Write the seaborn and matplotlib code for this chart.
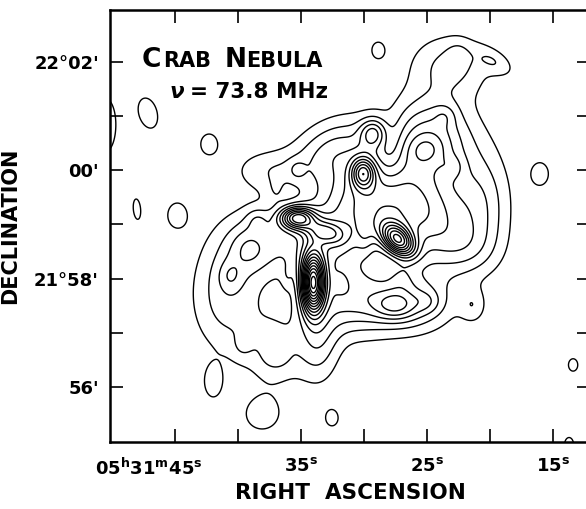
import numpy as np
import matplotlib
matplotlib.use("Agg")
import matplotlib.pyplot as plt
import matplotlib.transforms as mtransforms
import seaborn as sns

# ---- Data: brightness components (RA in s of 05h31m, Dec in arcmin above 21°) ----
comp_ra = np.array([
    40.79, 38.41, 37.06, 33.10, 31.11, 29.52, 25.16, 24.76, 26.35, 23.17, 20.56, 32.70, 19.60, 33.65, 22.38,
    37.62, 37.06,
    34.05, 35.32, 33.10, 27.30, 30.08, 29.29, 23.57, 22.94, 27.54, 38.49, 40.63,
    39.21, 39.68, 36.98, 35.32, 29.92, 26.98, 24.92, 25.16, 22.54, 36.11, 31.90, 27.90,
    47.14, 42.30, 44.84, 41.98, 38.10, 32.54, 21.35, 16.03, 13.41, 28.89, 13.73, 50.56, 48.02, 11.90])
comp_dec = np.array([
    57.70, 58.62, 56.78, 58.62, 57.61, 59.54, 59.17, 60.55, 57.61, 61.93, 59.45, 60.37, 61.99, 56.87, 58.53,
    60.00, 59.60,
    57.92, 59.12, 58.86, 58.71, 59.95, 60.68, 61.01, 60.06, 57.50, 59.10, 58.05,
    58.56, 56.74, 56.56, 60.00, 58.75, 58.03, 57.57, 60.37, 62.12, 58.03, 57.92, 60.37,
    61.05, 60.48, 59.17, 56.08, 55.49, 55.43, 57.50, 59.93, 56.41, 62.21, 54.94, 60.83, 59.28, 59.76])
comp_amp = np.array([
    2.6, 2.4, 2.0, 4.0, 3.5, 5.0, 4.5, 4.5, 3.5, 2.2, 2.0, 2.4, 1.4, 2.5, 2.0,
    1.6, 0.8,
    13.0, 8.0, 3.5, 9.0, 6.0, 3.5, 1.0, 1.0, 2.5, 1.2, 1.2,
    1.0, 0.8, 0.8, 1.0, 1.0, 1.0, 1.0, 1.2, 0.8, 0.8, 0.8, -1.2,
    1.5, 1.5, 1.5, 1.5, 1.6, 1.4, 1.5, 1.5, 1.35, 1.4, 1.5, 1.5, 1.3, 1.5])
comp_smaj = np.array([
    0.737, 0.460, 0.552, 0.552, 0.552, 0.645, 0.645, 0.552, 0.552, 0.516, 0.737, 0.552, 0.276, 0.552, 0.460,
    0.460, 0.184,
    0.368, 0.221, 0.258, 0.258, 0.200, 0.184, 0.147, 0.147, 0.276, 0.147, 0.184,
    0.258, 0.184, 0.166, 0.129, 0.221, 0.184, 0.166, 0.221, 0.184, 0.166, 0.147, 0.460,
    0.313, 0.203, 0.239, 0.258, 0.276, 0.166, 0.221, 0.221, 0.147, 0.166, 0.147, 0.552, 0.258, 0.147])
comp_smin = np.array([
    0.460, 0.460, 0.368, 0.552, 0.460, 0.645, 0.552, 0.516, 0.405, 0.405, 0.368, 0.368, 0.147, 0.276, 0.368,
    0.276, 0.129,
    0.147, 0.147, 0.147, 0.166, 0.150, 0.166, 0.147, 0.147, 0.184, 0.147, 0.147,
    0.221, 0.147, 0.147, 0.110, 0.110, 0.166, 0.147, 0.184, 0.147, 0.074, 0.110, 0.184,
    0.184, 0.166, 0.184, 0.147, 0.258, 0.129, 0.166, 0.166, 0.110, 0.129, 0.092, 0.221, 0.092, 0.110])
comp_pa = np.array([
    90, 0, 90, 0, 0, 0, 0, 90, 0, 0, 90, 30, -30, 90, 0,
    0, 90,
    90, 0, -15, -45, 90, 90, 0, 0, 0, 0, 90,
    90, 90, 0, 90, 90, 90, 0, 0, 90, 90, 90, 90,
    105, 90, 90, 90, 0, 90, 90, 90, 90, 90, 90, 90, 95, 90])

contour_levels = np.arange(1, 20)

ra_ticks = [45, 40, 35, 30, 25, 20, 15]
ra_labels = ["05$^{h}$31$^{m}$45$^{s}$", "", "35$^{s}$", "", "25$^{s}$", "", "15$^{s}$"]
dec_ticks = [56, 57, 58, 59, 60, 61, 62]
dec_labels = ["56'", "", "21°58'", "", "00'", "", "22°02'"]

# ---- Build the brightness map ----
ra_grid = np.linspace(11.5, 51.0, 700)
dec_grid = np.linspace(54.8, 63.2, 600)
RA, DEC = np.meshgrid(ra_grid, dec_grid)
scale = 15 * np.cos(np.deg2rad(22.0)) / 60.0   # arcmin per second of RA
field = np.zeros_like(RA)
for ra0, de0, a, sj, sn, pa in zip(comp_ra, comp_dec, comp_amp, comp_smaj, comp_smin, comp_pa):
    dx = -(RA - ra0) * scale
    dy = DEC - de0
    t = np.deg2rad(pa)
    u = dx * np.cos(t) + dy * np.sin(t)
    v = -dx * np.sin(t) + dy * np.cos(t)
    field += a * np.exp(-0.5 * ((u / sj) ** 2 + (v / sn) ** 2))

# ---- Plot ----
sns.set_theme(style="ticks")
plt.rcParams["font.family"] = ["DejaVu Sans"]
plt.rcParams["mathtext.default"] = "regular"
plt.rcParams["text.color"] = "black"
plt.rcParams["axes.labelcolor"] = "black"
plt.rcParams["xtick.color"] = "black"
plt.rcParams["ytick.color"] = "black"

W, H = 586, 509
fig = plt.figure(figsize=(W / 100, H / 100), dpi=100)
ax = fig.add_axes([110 / W, (H - 442) / H, (590 - 110) / W, (442 - 10) / H])

ax.contour(RA, DEC, field, levels=contour_levels, colors="black", linewidths=1.0)

ax.set_xlim(50.16, 12.07)
ax.set_ylim(54.99, 62.95)

ax.set_xticks(ra_ticks)
ax.set_xticklabels(ra_labels, fontsize=13, fontweight="bold", color="black")
ax.set_yticks(dec_ticks)
ax.set_yticklabels(dec_labels, fontsize=13, fontweight="bold", color="black")
ax.tick_params(axis="both", direction="in", length=9.5, width=1.2, color="black",
               top=True, right=True, labelcolor="black")
ax.tick_params(axis="x", pad=11)
ax.tick_params(axis="y", pad=8)
for s in ax.spines.values():
    s.set_linewidth(1.8)
    s.set_color("black")

# shift the first RA label so that "45s" sits under its tick
lab0 = ax.get_xticklabels()[0]
lab0.set_horizontalalignment("right")
lab0.set_transform(lab0.get_transform() + mtransforms.ScaledTranslation(28 / 100, 0, fig.dpi_scale_trans))

ax.set_xlabel("RIGHT  ASCENSION", fontsize=15.5, fontweight="bold", labelpad=3, color="black")
ax.set_ylabel("DECLINATION", fontsize=15, fontweight="bold", labelpad=10, color="black")

# title in small caps
def ft(x, y, s, size, style="normal"):
    fig.text(x / W, 1 - y / H, s, fontsize=size, fontweight="bold", fontstyle=style,
             va="baseline", ha="left", color="black")

ft(142, 67, "C", 19)
ft(163, 67, "RAB", 15)
ft(225, 67, "N", 19)
ft(246, 67, "EBULA", 15)
ft(170, 98, "ν", 15.5, "italic")
ft(190, 98, "= 73.8 MHz", 15.5)

fig.savefig("out.png", dpi=100)
